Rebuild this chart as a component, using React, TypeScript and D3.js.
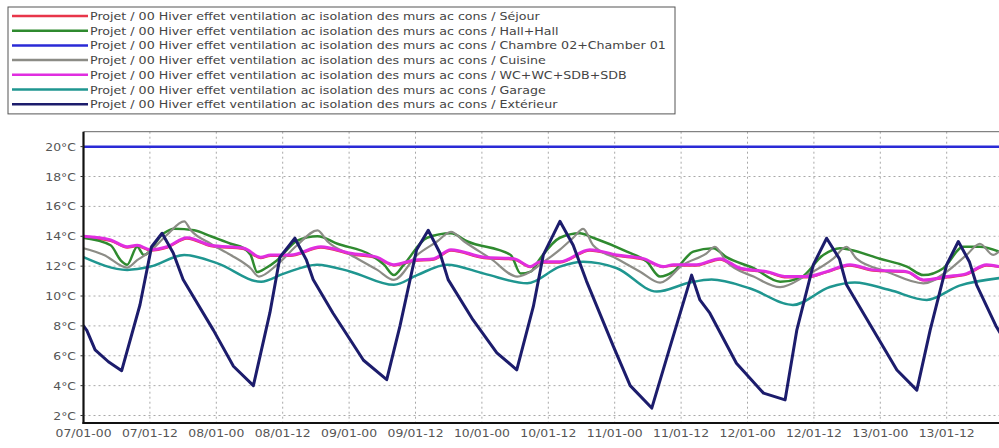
import React from "react";
import * as d3 from "d3";

const W = 999;
const H = 448;

const PREFIX = "Projet / 00 Hiver effet ventilation ac isolation des murs ac cons / ";
const seriesNames = ["Séjour", "Hall+Hall", "Chambre 02+Chamber  01", "Cuisine", "WC+WC+SDB+SDB", "Garage", "Extérieur"];
const seriesColors = ["#e8364a", "#2f8a2f", "#2a2ad6", "#8c8c86", "#e02ee0", "#1f9690", "#1c1c6c"];
const seriesWidths = [2.5, 2.5, 2.5, 2.2, 3, 2.5, 3];

const xTickHours = [0, 12, 24, 36, 48, 60, 72, 84, 96, 108, 120, 132, 144, 156];
const xTickLabels = ["07/01-00", "07/01-12", "08/01-00", "08/01-12", "09/01-00", "09/01-12", "10/01-00", "10/01-12", "11/01-00", "11/01-12", "12/01-00", "12/01-12", "13/01-00", "13/01-12"];
const xGridHours = [12, 24, 36, 48, 60, 72, 84, 96, 108, 120, 132, 144, 156, 168];
const yTicks = [2, 4, 6, 8, 10, 12, 14, 16, 18, 20];

// [hour, °C]
const sejour: [number, number][] = [
  [0, 13.9], [4.9, 13.7], [7.9, 13.25], [9.7, 13.35], [12.1, 13.05], [15.1, 13.25], [18.7, 13.85], [23.0, 13.35],
  [29.0, 13.15], [32.0, 12.55], [33.8, 12.7], [37.4, 12.7], [42.9, 13.25], [48.3, 12.8], [53.0, 12.55], [56.1, 12.05],
  [59.7, 12.35], [63.3, 12.45], [66.4, 13.05], [72.4, 12.55], [77.8, 12.45], [80.8, 11.95], [82.5, 12.25], [86.1, 12.25],
  [91.5, 13.05], [96.4, 12.7], [101.2, 12.45], [104.8, 11.95], [106.6, 12.05], [110.8, 12.05], [115.0, 12.45], [118.7, 11.8],
  [123.5, 11.6], [127.1, 11.25], [130.7, 11.25], [134.3, 11.6], [138.5, 12.05], [142.7, 11.7], [148.8, 11.6], [151.8, 11.05],
  [156.0, 11.25], [159.6, 11.45], [163.2, 12.05], [165.5, 11.95],
];
const hall: [number, number][] = [
  [0, 13.9], [4.9, 13.4], [6.7, 12.4], [7.9, 12.1], [9.7, 13.3], [10.9, 12.75], [14.5, 14.2], [16.4, 14.5], [20.0, 14.4],
  [23.0, 14.0], [26.6, 13.5], [29.0, 13.2], [30.2, 12.75], [31.4, 11.6], [32.9, 11.86], [35.0, 12.4], [38.6, 13.7],
  [42.3, 14.0], [45.9, 13.5], [51.9, 12.75], [54.3, 12.1], [56.1, 11.4], [57.9, 12.1], [62.1, 13.9], [66.4, 14.2],
  [69.4, 13.65], [77.2, 12.75], [79.0, 11.5], [80.8, 11.63], [82.5, 12.5], [86.1, 13.9], [89.7, 14.2], [92.1, 13.9],
  [98.2, 12.97], [101.8, 12.3], [104.2, 11.3], [106.6, 11.63], [110.2, 12.97], [113.8, 13.2], [116.2, 12.6],
  [121.1, 11.86], [125.9, 10.96], [129.5, 11.2], [133.7, 12.75], [136.7, 13.2], [138.5, 13.1], [143.9, 12.5],
  [148.8, 11.97], [151.8, 11.4], [155.4, 11.86], [159.0, 13.3], [162.0, 13.3], [165.5, 12.97],
];
const chambre: [number, number][] = [[0, 20], [168, 20]];
const cuisine: [number, number][] = [
  [0, 13.2], [3.7, 12.75], [7.9, 11.9], [9.7, 12.4], [12.1, 13.0], [15.1, 14.1], [18.2, 15.0], [19.4, 14.4], [23.0, 13.5],
  [26.6, 12.75], [30.2, 11.86], [31.7, 11.3], [35.0, 12.1], [38.6, 13.4], [42.3, 14.4], [44.1, 13.65], [48.3, 12.75],
  [53.1, 11.75], [56.1, 11.08], [60.3, 12.75], [63.9, 13.65], [66.4, 14.3], [68.8, 13.65], [73.6, 12.5], [78.4, 11.3],
  [80.8, 11.63], [82.5, 12.1], [86.1, 13.1], [88.5, 13.9], [90.3, 14.5], [92.1, 13.4], [96.4, 12.5], [100.6, 11.63],
  [104.2, 10.9], [108.4, 12.1], [112.6, 12.86], [114.1, 13.3], [116.2, 12.3], [121.1, 11.3], [125.9, 10.6], [130.7, 11.4],
  [135.5, 12.5], [137.9, 13.3], [139.7, 12.5], [145.2, 11.63], [151.8, 10.85], [156.0, 11.63], [159.6, 12.75],
  [162.0, 13.5], [164.4, 12.75], [165.5, 13.0],
];
const wc: [number, number][] = [
  [0, 14.0], [4.9, 13.75], [7.9, 13.3], [9.7, 13.4], [12.1, 13.1], [15.1, 13.3], [18.7, 13.9], [23.0, 13.4], [29.0, 13.2],
  [32.0, 12.6], [33.8, 12.75], [37.4, 12.75], [42.9, 13.3], [48.3, 12.86], [53.0, 12.6], [56.1, 12.1], [59.7, 12.4],
  [63.3, 12.5], [66.4, 13.1], [72.4, 12.6], [77.8, 12.5], [80.8, 11.97], [82.5, 12.3], [86.1, 12.3], [91.5, 13.1],
  [96.4, 12.75], [101.2, 12.5], [104.8, 11.97], [106.6, 12.1], [110.8, 12.1], [115.0, 12.5], [118.7, 11.86], [123.5, 11.63],
  [127.1, 11.3], [130.7, 11.3], [134.3, 11.63], [138.5, 12.1], [142.7, 11.75], [148.8, 11.63], [151.8, 11.08], [156.0, 11.3],
  [159.6, 11.5], [163.2, 12.1], [165.5, 11.97],
];
const garage: [number, number][] = [
  [0, 12.6], [7.9, 11.75], [12.1, 11.97], [18.2, 12.75], [24.1, 12.2], [32.1, 10.96], [36.2, 11.5], [42.2, 12.1],
  [48.3, 11.63], [56.1, 10.75], [60.3, 11.4], [65.7, 12.1], [72.4, 11.5], [80.2, 10.85], [86.1, 11.97], [90.3, 12.3],
  [96.4, 11.86], [103.6, 10.3], [109.6, 10.9], [113.5, 11.1], [120.5, 10.5], [128.2, 9.4], [134.9, 10.6], [139.4, 10.9],
  [145.7, 10.4], [152.4, 9.74], [158.3, 10.7], [165.5, 11.2],
];
const exterieur: [number, number][] = [
  [0, 8.0], [0.6, 7.7], [2.1, 6.4], [4.5, 5.6], [6.9, 5.0], [10.2, 9.4], [12.3, 13.3], [14.2, 14.2], [16.2, 12.9],
  [18.0, 11.1], [23.5, 7.7], [27.1, 5.3], [30.7, 4.0], [33.7, 8.9], [35.5, 12.6], [38.2, 13.87], [40.3, 12.4],
  [41.5, 11.1], [45.1, 8.85], [50.6, 5.7], [54.8, 4.4], [57.2, 8.0], [60.2, 13.1], [62.3, 14.4], [64.4, 12.9],
  [65.9, 11.1], [70.4, 8.4], [74.7, 6.2], [78.3, 5.06], [81.3, 9.3], [83.1, 12.75], [86.1, 15.0], [88.5, 13.4],
  [90.9, 11.0], [95.8, 6.6], [98.8, 4.0], [102.7, 2.5], [106.0, 6.6], [109.9, 11.4], [111.4, 9.74], [113.2, 8.85],
  [118.0, 5.5], [122.9, 3.5], [126.8, 3.05], [128.9, 7.7], [131.9, 12.1], [134.3, 13.87], [136.6, 12.5], [137.9, 10.75],
  [143.4, 7.3], [147.0, 5.05], [150.6, 3.7], [153.0, 7.7], [156.0, 12.1], [158.1, 13.65], [160.1, 12.3], [161.4, 10.75],
  [164.9, 8.0], [166.5, 7.0],
];
const allSeries = [sejour, hall, chambre, cuisine, wc, garage, exterieur];

export default function App() {
  const left = 83.5;
  const top = 131.7;
  const bottom = 423;
  const x = d3.scaleLinear().domain([0, 168]).range([left, left + 14 * 66.4]);
  const y = d3.scaleLinear().domain([1.5, 21.0]).range([bottom, top]);
  const line = d3
    .line<[number, number]>()
    .x((d) => x(d[0]))
    .y((d) => y(d[1]))
    .curve(d3.curveMonotoneX);
  const lineLin = d3
    .line<[number, number]>()
    .x((d) => x(d[0]))
    .y((d) => y(d[1]))
    .curve(d3.curveLinear);

  const font = "'DejaVu Sans', sans-serif";
  const legendTop = 7;
  const rowH = 14.7;
  const legendScale = 1.15;
  const axisScale = 1.13;

  return (
    <div style={{ position: "absolute", left: 0, top: 0 }}>
      <svg width={W} height={H} style={{ display: "block", background: "#fff" }}>
        <defs>
          <clipPath id="plotclip">
            <rect x={left} y={top} width={W - left} height={bottom - top} />
          </clipPath>
        </defs>
        {/* legend */}
        <rect x={8} y={legendTop} width={667} height={rowH * 7 + 4} fill="#fff" stroke="#555" strokeWidth={1} />
        {seriesNames.map((n, i) => {
          const cy = legendTop + 9 + i * rowH;
          return (
            <g key={n}>
              <line x1={12} x2={88} y1={cy} y2={cy} stroke={seriesColors[i]} strokeWidth={2.5} />
              <text
                transform={`translate(90,${cy + 4}) scale(${legendScale},1)`}
                fontFamily={font}
                fontSize={11}
                fill="#444"
              >
                {PREFIX + n}
              </text>
            </g>
          );
        })}

        {/* grid */}
        {yTicks.filter((t) => t < 20).map((t) => (
          <line key={"gy" + t} x1={left} x2={W} y1={y(t)} y2={y(t)} stroke="#a8a8a8" strokeWidth={1} strokeDasharray="2,3" />
        ))}
        {xGridHours.map((h) => (
          <line key={"gx" + h} x1={x(h)} x2={x(h)} y1={top} y2={bottom} stroke="#a8a8a8" strokeWidth={1} strokeDasharray="2,3" />
        ))}

        {/* series */}
        <g clipPath="url(#plotclip)">
          {allSeries.map((s, i) => (
            <path
              key={i}
              d={(i === 6 ? lineLin : line)(s) || ""}
              fill="none"
              stroke={seriesColors[i]}
              strokeWidth={seriesWidths[i]}
              strokeLinejoin="round"
              strokeLinecap="round"
            />
          ))}
        </g>

        {/* frame */}
        <line x1={left} x2={W} y1={top} y2={top} stroke="#666" strokeWidth={1} />
        <line x1={left} x2={left} y1={top} y2={bottom + 1} stroke="#111" strokeWidth={2.2} />
        <line x1={left - 1} x2={W} y1={bottom} y2={bottom} stroke="#111" strokeWidth={2.2} />

        {/* y labels */}
        {yTicks.map((t) => (
          <g key={"yl" + t}>
            <line x1={left - 3} x2={left} y1={y(t)} y2={y(t)} stroke="#333" />
            <text
              transform={`translate(76,${y(t) + 4}) scale(${axisScale},1)`}
              textAnchor="end"
              fontFamily={font}
              fontSize={11}
              fill="#555"
            >
              {t + "°C"}
            </text>
          </g>
        ))}
        {/* x labels */}
        {xTickHours.map((h, i) => (
          <text
            key={"xl" + h}
            transform={`translate(${x(h)},437) scale(${axisScale},1)`}
            textAnchor="middle"
            fontFamily={font}
            fontSize={11}
            fill="#555"
          >
            {xTickLabels[i]}
          </text>
        ))}
      </svg>
    </div>
  );
}
